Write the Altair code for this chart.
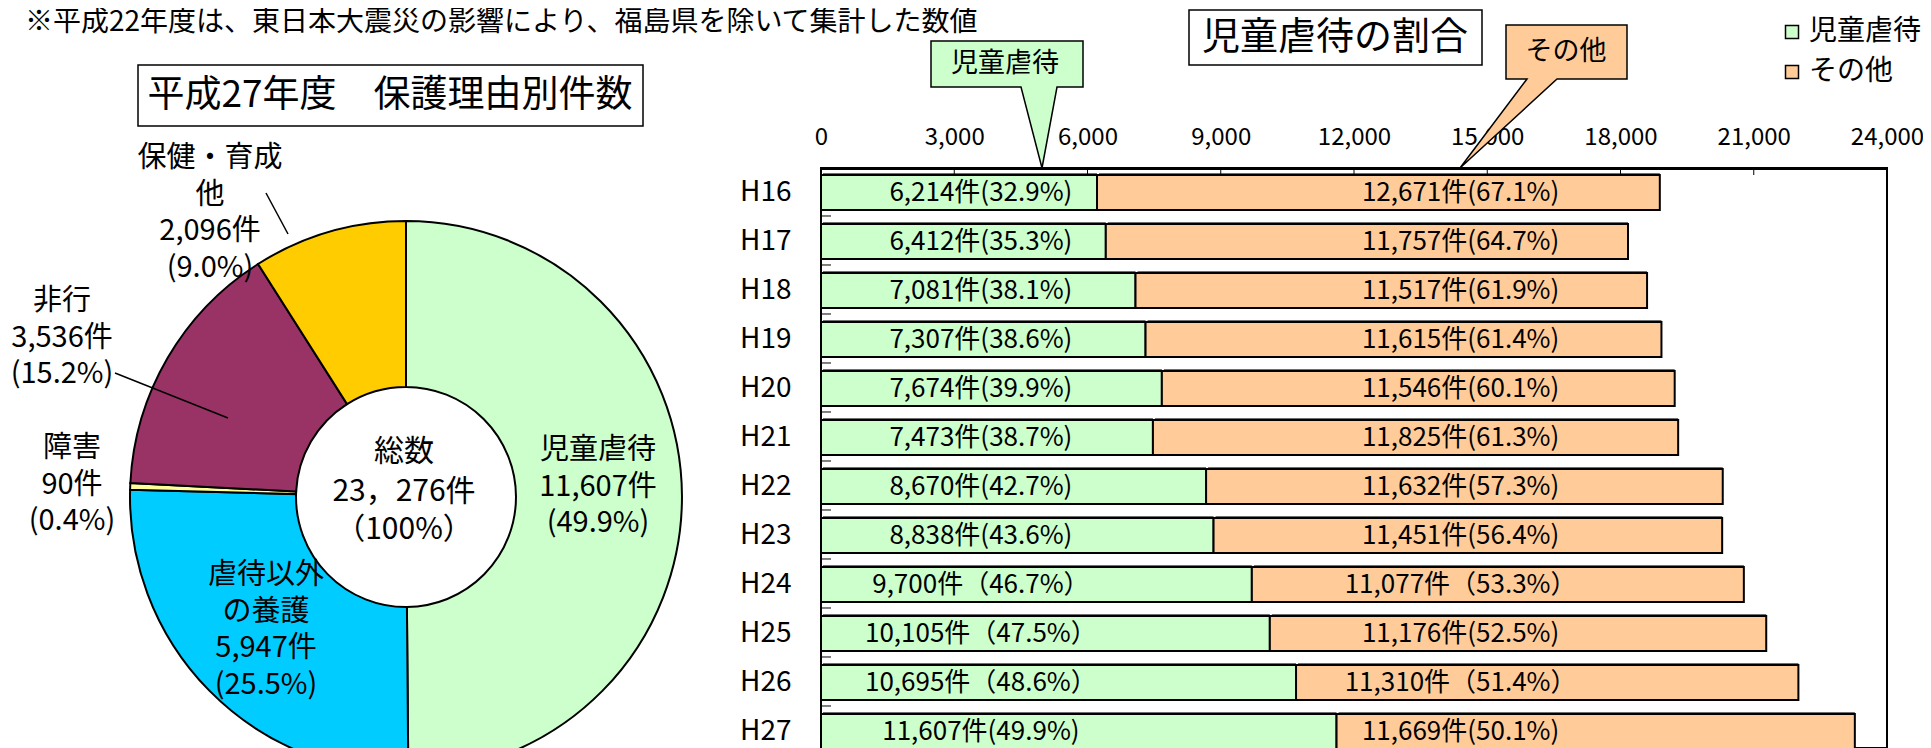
import altair as alt
import pandas as pd

FONT = "Noto Sans CJK JP"

# ---------------- data: bar chart ----------------
years = ["H16", "H17", "H18", "H19", "H20", "H21", "H22", "H23", "H24", "H25", "H26", "H27"]
abuse_counts = [6214, 6412, 7081, 7307, 7674, 7473, 8670, 8838, 9700, 10105, 10695, 11607]
abuse_pcts = [32.9, 35.3, 38.1, 38.6, 39.9, 38.7, 42.7, 43.6, 46.7, 47.5, 48.6, 49.9]
other_counts = [12671, 11757, 11517, 11615, 11546, 11825, 11632, 11451, 11077, 11176, 11310, 11669]
other_pcts = [67.1, 64.7, 61.9, 61.4, 60.1, 61.3, 57.3, 56.4, 53.3, 52.5, 51.4, 50.1]
series_names = ["児童虐待", "その他"]
x_ticks = [0, 3000, 6000, 9000, 12000, 15000, 18000, 21000, 24000]
wide_paren_abuse = ["H24", "H25", "H26"]
wide_paren_other = ["H24", "H26"]

# ---------------- data: donut ----------------
reasons = ["児童虐待", "虐待以外の養護", "障害", "非行", "保健・育成他"]
reason_counts = [11607, 5947, 90, 3536, 2096]
reason_pcts = [49.9, 25.5, 0.4, 15.2, 9.0]
reason_label_lines = [["児童虐待"], ["虐待以外", "の養護"], ["障害"], ["非行"], ["保健・育成", "他"]]
total_count = 23276

note_text = "※平成22年度は、東日本大震災の影響により、福島県を除いて集計した数値"
pie_title = "平成27年度　保護理由別件数"
bar_title = "児童虐待の割合"

# ---------------- layout (page pixels) ----------------
OX, OY = 821, 168          # page position of the bar plot origin
PLOT_W, PLOT_H = 1066, 580
BAND_RANGE = 588
PAGE_W = 1915

bar_colors = ["#CCFFCC", "#FFCC99"]
pie_colors = ["#CCFFCC", "#00CCFF", "#FFFF99", "#993366", "#FFCC00"]

ONE = pd.DataFrame({"k": [0]})


def fmt(c, p, wide):
    return f"{c:,}件（{p:.1f}%）" if wide else f"{c:,}件({p:.1f}%)"


rows = []
lab_rows = []
for i, y in enumerate(years):
    a, o = abuse_counts[i], other_counts[i]
    rows.append({"year": y, "series": series_names[0], "start": 0, "end": a})
    rows.append({"year": y, "series": series_names[1], "start": a, "end": a + o})
    lab_rows.append({"year": y, "series": series_names[0],
                     "label": fmt(a, abuse_pcts[i], y in wide_paren_abuse)})
    lab_rows.append({"year": y, "series": series_names[1],
                     "label": fmt(o, other_pcts[i], y in wide_paren_other)})
bars_df = pd.DataFrame(rows)
labels_df = pd.DataFrame(lab_rows)

XS = alt.Scale(domain=[0, 24000], nice=False, zero=True)
AX = alt.Axis(orient="top", values=x_ticks, format=",d", title=None, ticks=False, tickSize=0,
              labelPadding=31, labelBaseline="middle", labelFont=FONT, labelFontSize=24,
              labelColor="black", domain=True, domainColor="black", domainWidth=3,
              grid=False, labelFlush=False, labelOverlap=False, zindex=0)
YS = alt.Scale(domain=years, range=[0, BAND_RANGE], paddingInner=0.286, paddingOuter=0.143)
AY = alt.Axis(title=None, ticks=False, tickSize=0, domain=False, labelPadding=30,
              labelFont=FONT, labelFontSize=28, labelColor="black", grid=False, zindex=0)

Y = alt.Y("year:N", scale=YS, axis=AY)
X = alt.X("start:Q", scale=XS, axis=AX)

layers = []

# bar shadow
layers.append(alt.Chart(bars_df).mark_bar(color="#6f6f6f", xOffset=2, yOffset=-2).encode(
    y=Y, x=X, x2="end:Q"))
# bars
layers.append(alt.Chart(bars_df).mark_bar(stroke="black", strokeWidth=2).encode(
    y=Y, x=X, x2="end:Q",
    color=alt.Color("series:N", scale=alt.Scale(domain=series_names, range=bar_colors),
                    legend=alt.Legend(title=None, orient="none", legendX=957, legendY=-150,
                                      symbolType="square", symbolSize=169,
                                      symbolStrokeColor="black", symbolStrokeWidth=1.5,
                                      labelFont=FONT, labelFontSize=28, labelColor="black",
                                      rowPadding=12, labelOffset=3, padding=0,
                                      symbolOpacity=1))))
# inner x ticks along top
layers.append(alt.Chart(pd.DataFrame({"tick": x_ticks})).mark_rule(color="black", strokeWidth=1).encode(
    x=alt.X("tick:Q", scale=XS, axis=AX), y=alt.value(0), y2=alt.value(7)))
# inner y ticks at band boundaries
layers.append(alt.Chart(pd.DataFrame({"year": years})).mark_rule(color="black", strokeWidth=1, yOffset=6).encode(
    y=alt.Y("year:N", scale=YS, axis=AY, bandPosition=1), x=alt.value(0), x2=alt.value(10)))
# bar labels
layers.append(alt.Chart(labels_df[labels_df.series == series_names[0]]).mark_text(
    font=FONT, fontSize=26, color="black", align="center", baseline="middle").encode(
    y=Y, x=alt.X(datum=3600, type="quantitative", scale=XS, axis=AX), text="label:N"))
layers.append(alt.Chart(labels_df[labels_df.series == series_names[1]]).mark_text(
    font=FONT, fontSize=26, color="black", align="center", baseline="middle").encode(
    y=Y, x=alt.X(datum=14400, type="quantitative", scale=XS, axis=AX), text="label:N"))

# ---------------- donut ----------------
pie_df = pd.DataFrame({"reason": reasons, "count": reason_counts, "ord": list(range(len(reasons)))})
CX, CY = 406, 497
layers.append(alt.Chart(pie_df).mark_arc(radius=276, radius2=110, stroke="black", strokeWidth=2).encode(
    theta=alt.Theta("count:Q", stack=True),
    order=alt.Order("ord:Q"),
    fill=alt.Fill("reason:N", scale=alt.Scale(domain=reasons, range=pie_colors), legend=None),
    x=alt.value(CX - OX), y=alt.value(CY - OY)))


def txt(s, px, py, size, align="center", baseline="middle", font=FONT):
    return alt.Chart(ONE).mark_text(font=font, fontSize=size, align=align, baseline=baseline,
                                    color="black").encode(
        x=alt.value(px - OX), y=alt.value(py - OY), text=alt.value(s))


def box(x1, y1, x2, y2, fill="white"):
    return alt.Chart(ONE).mark_rect(fill=fill, stroke="black", strokeWidth=1.5).encode(
        x=alt.value(x1 - OX), x2=alt.value(x2 - OX), y=alt.value(y1 - OY), y2=alt.value(y2 - OY))


def seg(x1, y1, x2, y2):
    return alt.Chart(ONE).mark_rule(color="black", strokeWidth=1.5).encode(
        x=alt.value(x1 - OX), x2=alt.value(x2 - OX), y=alt.value(y1 - OY), y2=alt.value(y2 - OY))


def callout(points, fill):
    path = "M " + " L ".join(f"{x - OX},{y - OY}" for x, y in points) + " Z"
    return alt.Chart(ONE).mark_point(shape=path, size=4, filled=True, fill=fill, stroke="black",
                                     strokeWidth=1.5, opacity=1, fillOpacity=1).encode(
        x=alt.value(0), y=alt.value(0))


# donut labels
anchors = [(598, 450), (266, 575), (72, 448), (62, 301), (210, 158)]
LH = 36.5
for i in range(len(reasons)):
    lines = reason_label_lines[i] + [f"{reason_counts[i]:,}件", f"({reason_pcts[i]:.1f}%)"]
    ax, ay = anchors[i]
    for k, s in enumerate(lines):
        layers.append(txt(s, ax, ay + k * LH, 29))

# centre text
layers.append(txt("総数", 404, 452, 30))
layers.append(txt(f"{total_count:,}件".replace(",", "，"), 404, 492, 30))
layers.append(txt("（100%）", 404, 530, 30))

# leader lines
layers.append(seg(266, 193, 288, 234))
layers.append(seg(115, 373, 228, 418))

# titles
layers.append(box(138, 65, 643, 126))
layers.append(txt(pie_title, 390, 96, 37))
layers.append(box(1189, 10, 1482, 65))
layers.append(txt(bar_title, 1335, 38, 38))
layers.append(txt(note_text, 25, 23, 28, align="left"))

# callouts
layers.append(callout([(931, 41), (1083, 41), (1083, 87), (1057, 87), (1042, 168), (1021, 87), (931, 87)],
                      bar_colors[0]))
layers.append(txt(series_names[0], 1005, 64, 27))
layers.append(callout([(1506, 25), (1627, 25), (1627, 79), (1557, 79), (1460, 168), (1527, 79), (1506, 79)],
                      bar_colors[1]))
layers.append(txt(series_names[1], 1566, 52, 27))

chart = alt.layer(*layers).properties(
    width=PLOT_W, height=PLOT_H,
    autosize=alt.AutoSizeParams(type="none"),
    padding={"left": OX - 8, "top": OY - 8, "right": PAGE_W - (OX - 8) - PLOT_W, "bottom": 0},
    background="white",
).configure_view(stroke="black", strokeWidth=2)

chart.save("out.html", embed_options={"renderer": "svg", "actions": False})
